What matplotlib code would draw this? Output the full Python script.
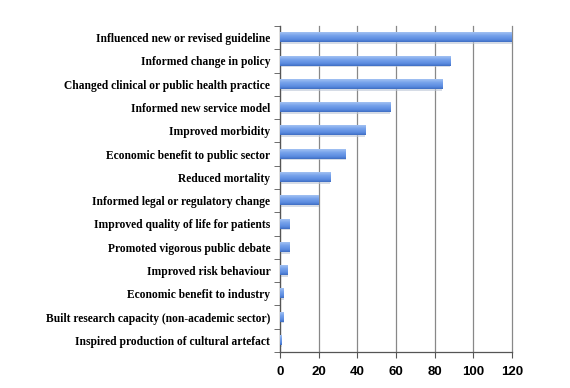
import matplotlib
matplotlib.use("Agg")
import matplotlib.pyplot as plt
import numpy as np
from matplotlib.colors import LinearSegmentedColormap

categories = [
    "Influenced new or revised guideline",
    "Informed change in policy",
    "Changed clinical or public health practice",
    "Informed new service model",
    "Improved morbidity",
    "Economic benefit to public sector",
    "Reduced mortality",
    "Informed legal or regulatory change",
    "Improved quality of life for patients",
    "Promoted vigorous public debate",
    "Improved risk behaviour",
    "Economic benefit to industry",
    "Built research capacity (non-academic sector)",
    "Inspired production of cultural artefact",
]
values = [121, 88, 84, 57, 44, 34, 26, 20, 5, 5, 4, 2, 2, 1]
xticks = [0, 20, 40, 60, 80, 100, 120]

plt.rcParams['font.family'] = ['Liberation Serif', 'DejaVu Serif']

fig = plt.figure(figsize=(5.7, 3.88), dpi=100)
ax = fig.add_axes([280/570, 1-352/388, 232/570, 326/388])

n = len(categories)
y = np.arange(n)
XMAX = 120
BH = 0.4

# soft shadow under bars
ax.barh(y + 0.07, values, height=BH, color='#bcc6d6', alpha=0.6, linewidth=0, zorder=2)
bars = ax.barh(y, values, height=BH, color='#6393e6', linewidth=0, zorder=3)

cmap = LinearSegmentedColormap.from_list(
    'bargrad', [(0.0, '#a3c2f2'), (0.35, '#76a2eb'), (0.75, '#5b8be0'), (1.0, '#3e6dc2')])
grad = np.linspace(0, 1, 64).reshape(-1, 1)
for b in bars:
    x0, y0 = b.get_x(), b.get_y()
    w, h = b.get_width(), b.get_height()
    ax.imshow(grad, cmap=cmap, aspect='auto',
              extent=(x0, min(x0 + w, XMAX), y0 + h, y0),
              origin='upper', zorder=3.5, interpolation='bilinear')
ax.set_xlim(0, XMAX)
ax.set_ylim(n - 0.5, -0.5)

ax.set_yticks(y)
ax.set_yticklabels(categories, fontsize=8.3, fontweight='bold')
ax.set_yticks(np.arange(-0.5, n, 1), minor=True)
ax.tick_params(axis='y', which='major', length=0, pad=7)
ax.tick_params(axis='y', which='minor', length=4, direction='out', color='#555555')
ax.set_xticks(xticks)
ax.set_xticklabels([str(t) for t in xticks], fontsize=9.5, fontweight='bold',
                   family=['Liberation Sans', 'DejaVu Sans'])
ax.tick_params(axis='x', length=4, direction='out', color='#555555', pad=6)
ax.grid(axis='x', color='#888888', linewidth=0.9, zorder=0)
for gl in ax.xaxis.get_gridlines():
    gl.set_clip_on(False)
for s in ['top', 'right']:
    ax.spines[s].set_visible(False)
for s in ['left', 'bottom']:
    ax.spines[s].set_color('#555555')
    ax.spines[s].set_linewidth(0.9)

fig.savefig('out.png', dpi=100)
